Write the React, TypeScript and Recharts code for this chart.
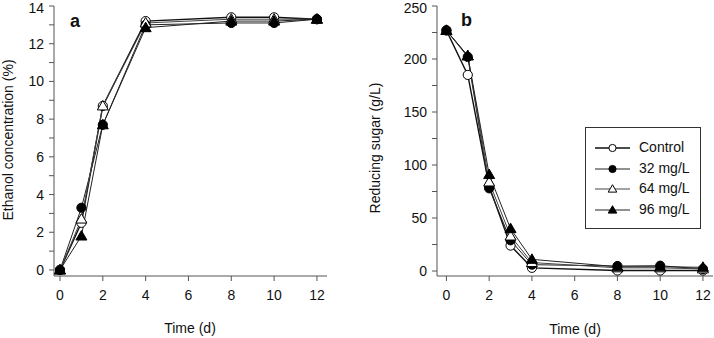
import React from "react";
import { LineChart, Line, XAxis, YAxis } from "recharts";

const FONT = "'Liberation Sans', Arial, sans-serif";

// panel a: ethanol concentration (%)
const ethanolDays = [0, 1, 2, 4, 8, 10, 12];
const ethanolControl = [0, 2.5, 8.7, 13.2, 13.4, 13.4, 13.3];
const ethanol32 = [0, 3.3, 7.7, 13.0, 13.1, 13.1, 13.3];
const ethanol64 = [0, 2.7, 8.7, 13.1, 13.3, 13.3, 13.3];
const ethanol96 = [0, 1.8, 7.7, 12.85, 13.2, 13.2, 13.3];

// panel b: reducing sugar (g/L)
const sugarDays = [0, 1, 2, 3, 4, 8, 10, 12];
const sugarControl = [227, 185, 80, 24, 3, 0.5, 0.5, 0.5];
const sugar32 = [227, 202, 78, 29, 6, 4.7, 5, 2];
const sugar64 = [227, 203, 84, 33, 8, 3, 3, 2];
const sugar96 = [227, 203, 91, 40, 11, 4, 4, 3.5];

const seriesNames = ["Control", "32 mg/L", "64 mg/L", "96 mg/L"];
const seriesKeys = ["control", "c32", "c64", "c96"];
const markerKinds = ["openCircle", "filledCircle", "openTriangle", "filledTriangle"];
const lineColors = ["#111", "#222", "#444", "#222"];
const lineWidths = [1.4, 1, 1, 1];

const xTicks = [0, 2, 4, 6, 8, 10, 12];
const ethanolTicks = [0, 1, 2, 3, 4, 5, 6, 7, 8, 9, 10, 11, 12, 13, 14];
const sugarTicks = [0, 25, 50, 75, 100, 125, 150, 175, 200, 225, 250];

const ethanolRows = ethanolDays.map((d, i) => ({
  day: d,
  control: ethanolControl[i],
  c32: ethanol32[i],
  c64: ethanol64[i],
  c96: ethanol96[i],
}));

const sugarRows = sugarDays.map((d, i) => ({
  day: d,
  control: sugarControl[i],
  c32: sugar32[i],
  c64: sugar64[i],
  c96: sugar96[i],
}));

const Marker = ({ kind, cx, cy, s = 1 }) => {
  if (cx == null || cy == null) return null;
  if (kind === "openCircle" || kind === "filledCircle") {
    return (
      <circle
        cx={cx}
        cy={cy}
        r={4.6 * s}
        fill={kind === "filledCircle" ? "#000" : "#fff"}
        stroke="#000"
        strokeWidth={1}
      />
    );
  }
  const pts = `${cx},${cy - 5.5 * s} ${cx - 5.5 * s},${cy + 4 * s} ${cx + 5.5 * s},${cy + 4 * s}`;
  return (
    <polygon
      points={pts}
      fill={kind === "filledTriangle" ? "#000" : "#fff"}
      stroke="#000"
      strokeWidth={1}
    />
  );
};

const LegendBox = () => (
  <div
    style={{
      width: 114,
      height: 100,
      border: "1px solid #333",
      background: "#fff",
      fontFamily: FONT,
      fontSize: 14,
      color: "#111",
      position: "relative",
    }}
  >
    {seriesNames.map((name, i) => (
      <div key={name} style={{ position: "absolute", left: 0, top: 10 + i * 20.5, height: 20, width: 114 }}>
        <svg width={40} height={20} style={{ position: "absolute", left: 8, top: 0 }}>
          <line x1={1} y1={10} x2={36} y2={10} stroke={lineColors[i]} strokeWidth={lineWidths[i]} />
          <Marker kind={markerKinds[i]} cx={18.5} cy={10} s={0.78} />
        </svg>
        <span style={{ position: "absolute", left: 53, top: 1, whiteSpace: "nowrap" }}>{name}</span>
      </div>
    ))}
  </div>
);

const tickStyle = { fontFamily: FONT, fontSize: 14, fill: "#111" };

const renderLines = () =>
  seriesKeys.map((k, i) => (
    <Line
      key={k}
      dataKey={k}
      name={seriesNames[i]}
      type="linear"
      stroke={lineColors[i]}
      strokeWidth={lineWidths[i]}
      isAnimationActive={false}
      dot={(p) => <Marker key={`${k}-${p.index}`} kind={markerKinds[i]} cx={p.cx} cy={p.cy} />}
      activeDot={false}
    />
  ));

const titleStyle = {
  position: "absolute",
  fontFamily: FONT,
  fontSize: 14,
  color: "#111",
  whiteSpace: "nowrap",
};

export default function App() {
  return (
    <div style={{ position: "absolute", left: 0, top: 0, width: 714, height: 338, background: "#fff", overflow: "hidden" }}>
      <div style={{ position: "absolute", left: 0, top: 0 }}>
        <LineChart width={340} height={338} data={ethanolRows} margin={{ top: 6, right: 13, bottom: 0, left: 0 }}>
          <XAxis
            dataKey="day"
            type="number"
            domain={[-0.28, 12.47]}
            allowDataOverflow
            ticks={xTicks}
            height={62}
            tickSize={5}
            tickMargin={9}
            tick={tickStyle}
            stroke="#555"
          />
          <YAxis
            type="number"
            domain={[-0.32, 14]}
            allowDataOverflow
            ticks={ethanolTicks}
            tickFormatter={(v) => (v % 2 === 0 ? String(v) : "")}
            width={54}
            tickSize={5}
            tickMargin={5}
            tick={tickStyle}
            stroke="#555"
          />
          {renderLines()}
        </LineChart>
      </div>
      <div style={{ position: "absolute", left: 350, top: 0 }}>
        <LineChart width={364} height={338} data={sugarRows} margin={{ top: 6, right: 1, bottom: 0, left: 0 }}>
          <XAxis
            dataKey="day"
            type="number"
            domain={[-0.44, 12.47]}
            allowDataOverflow
            ticks={xTicks}
            height={62}
            tickSize={5}
            tickMargin={9}
            tick={tickStyle}
            stroke="#555"
          />
          <YAxis
            type="number"
            domain={[-4.7, 250]}
            allowDataOverflow
            ticks={sugarTicks}
            tickFormatter={(v) => (v % 50 === 0 ? String(v) : "")}
            width={87}
            tickSize={5}
            tickMargin={5}
            tick={tickStyle}
            stroke="#555"
          />
          {renderLines()}
        </LineChart>
      </div>
      <div style={{ position: "absolute", left: 585, top: 127 }}>
        <LegendBox />
      </div>
      <div style={{ ...titleStyle, left: 70, top: 11, fontSize: 18, fontWeight: "bold" }}>a</div>
      <div style={{ ...titleStyle, left: 461, top: 10, fontSize: 18, fontWeight: "bold" }}>b</div>
      <div style={{ ...titleStyle, left: 190, top: 328, transform: "translate(-50%, -50%)" }}>Time (d)</div>
      <div style={{ ...titleStyle, left: 575, top: 329, transform: "translate(-50%, -50%)" }}>Time (d)</div>
      <div style={{ ...titleStyle, left: 8, top: 140, transform: "translate(-50%, -50%) rotate(-90deg)" }}>
        Ethanol concentration (%)
      </div>
      <div style={{ ...titleStyle, left: 375, top: 148, transform: "translate(-50%, -50%) rotate(-90deg)" }}>
        Reducing sugar (g/L)
      </div>
    </div>
  );
}
